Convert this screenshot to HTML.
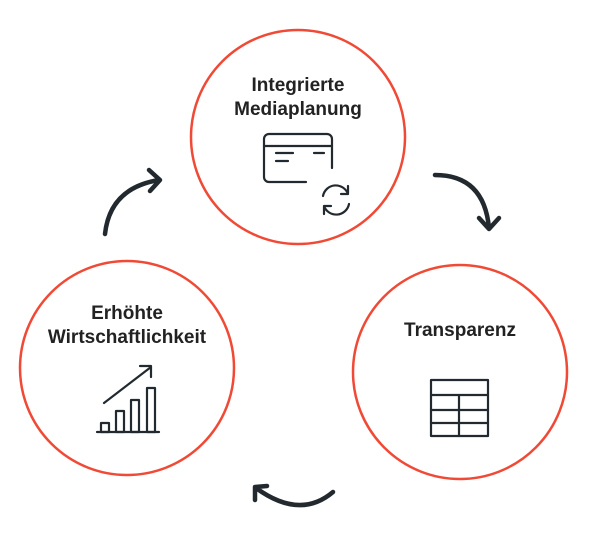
<!DOCTYPE html>
<html><head><style>
body{margin:0;background:#fff;width:600px;height:540px;overflow:hidden}
svg{display:block}
text{font-family:"Liberation Sans",sans-serif;font-weight:bold;font-size:19px;fill:#222;text-anchor:middle}
</style></head><body>
<svg width="600" height="540" viewBox="0 0 600 540">
<g fill="none" stroke="#f04a36" stroke-width="2.5">
<circle cx="298" cy="137" r="107"/>
<circle cx="127" cy="368" r="107"/>
<circle cx="460" cy="372" r="107"/>
</g>
<text x="298" y="91">Integrierte</text>
<text x="298" y="115">Mediaplanung</text>
<text x="127" y="319">Erhöhte</text>
<text x="127" y="343">Wirtschaftlichkeit</text>
<text x="460" y="336">Transparenz</text>
<g fill="none" stroke="#222a30" stroke-width="2.2" stroke-linecap="round" stroke-linejoin="round">
<path d="M306 182 H269 a5 5 0 0 1 -5 -5 V139 a5 5 0 0 1 5 -5 H327 a5 5 0 0 1 5 5 V168"/>
<path d="M264 146 H332 M276 153 H293 M314 153 H324 M276 161 H288"/>
<path d="M323 196 A13 13 0 0 1 348 194 M348 186 V194 H341"/>
<path d="M349 204 A13 13 0 0 1 324 206 M324 214 V206 H331"/>
<path d="M97 432 H159"/>
<rect x="101" y="423" width="8" height="9"/>
<rect x="116" y="411" width="8" height="21"/>
<rect x="131" y="400" width="8" height="32"/>
<rect x="147" y="388" width="8" height="44"/>
<path d="M104 403 L151 367 M140 366 H151 V377"/>
<rect x="431" y="380" width="57" height="56"/>
<path d="M431 395 H488 M431 410 H488 M431 423 H488 M459 395 V436"/>
</g>
<g fill="none" stroke="#222a30" stroke-width="4.5" stroke-linecap="round" stroke-linejoin="round">
<path d="M333 492 Q300 520 256 488 M255 500 L255 487 L267 486"/>
<path d="M435 175 Q484 175 489 228 M479 218 L489 229 L499 218"/>
<path d="M105 234 Q110 188 159 180 M149 170 L160 180 L150 191"/>
</g>
</svg>
</body></html>
